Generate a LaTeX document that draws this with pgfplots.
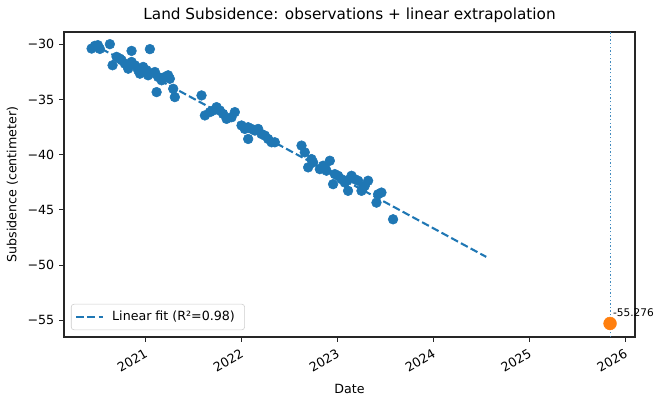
\documentclass[border=0pt]{standalone}
\usepackage{fontspec}
\setmainfont{DejaVu Sans}
\usepackage{pgfplots}
\usepackage{pgfplotstable}
\pgfplotsset{compat=1.18}
\definecolor{tabblue}{HTML}{1F77B4}
\definecolor{taborange}{HTML}{FF7F0E}

\pgfplotstableread{
x y
2020.4375 -30.40
2020.472 -30.15
2020.503 -30.09
2020.524 -30.43
2020.628 -30.00
2020.656 -31.91
2020.698 -31.15
2020.732 -31.31
2020.750 -31.45
2020.784 -31.76
2020.819 -32.22
2020.854 -31.61
2020.854 -30.61
2020.889 -31.91
2020.923 -32.36
2020.941 -32.67
2020.975 -32.06
2021.010 -32.36
2021.027 -32.82
2021.045 -30.45
2021.097 -32.52
2021.131 -32.97
2021.167 -33.27
2021.201 -32.97
2021.235 -32.82
2021.253 -33.13
2021.115 -34.34
2021.288 -34.04
2021.305 -34.79
2021.583 -34.64
2021.618 -36.45
2021.670 -36.15
2021.704 -36.00
2021.740 -35.70
2021.774 -36.00
2021.808 -36.31
2021.844 -36.76
2021.896 -36.61
2021.930 -36.15
2022.000 -37.36
2022.034 -37.67
2022.069 -37.52
2022.104 -37.67
2022.139 -37.82
2022.173 -37.67
2022.208 -38.13
2022.243 -38.27
2022.277 -38.58
2022.313 -38.88
2022.347 -38.88
2022.069 -38.58
2022.625 -39.18
2022.659 -39.79
2022.729 -40.40
2022.694 -41.15
2022.746 -40.70
2022.816 -41.31
2022.850 -41.00
2022.885 -41.45
2022.920 -40.55
2022.868 -41.15
2022.954 -42.67
2022.972 -41.76
2023.006 -41.91
2023.042 -42.22
2023.076 -42.52
2023.110 -43.27
2023.094 -42.36
2023.146 -41.91
2023.180 -42.22
2023.215 -42.36
2023.250 -43.27
2023.284 -42.82
2023.319 -42.36
2023.267 -42.97
2023.423 -43.58
2023.406 -44.34
2023.458 -43.43
2023.579 -45.85
}\obs

\pgfplotstableread{
x y
2020.44 -29.95
2024.55 -49.25
}\fit

\begin{document}
\begin{tikzpicture}
\begin{axis}[
  scale only axis, width=411.1pt, height=219.6pt,
  xmin=2020.15, xmax=2026.10, ymin=-56.5, ymax=-28.9,
  clip=false,
  axis line style={line width=0.8pt, black!85},
  tick align=outside, xtick pos=bottom, ytick pos=left,
  major tick length=3.5pt, tick style={line width=0.8pt, black!85},
  xtick={2021,2022,2023,2024,2025,2026},
  xticklabels={2021,2022,2023,2024,2025,2026},
  ytick={-55,-50,-45,-40,-35,-30},
  yticklabels={−55,−50,−45,−40,−35,−30},
  xticklabel style={rotate=30, anchor=north east, font=\fontsize{9.1}{11}\selectfont},
  yticklabel style={font=\fontsize{9.1}{11}\selectfont},
  title={Land Subsidence: observations + linear extrapolation},
  title style={font=\fontsize{11}{13}\selectfont, yshift=-3pt},
  xlabel={Date}, ylabel={Subsidence (centimeter)},
  label style={font=\fontsize{9.1}{11}\selectfont},
  legend style={at={(0,0)}, anchor=south west, xshift=5pt, yshift=5pt,
    draw=black!20, rounded corners=2pt, fill=white,
    font=\fontsize{9.1}{11}\selectfont, inner xsep=3pt, inner ysep=3pt,
    cells={anchor=west}, nodes={inner xsep=4pt}},
  legend image code/.code={\draw[#1] (0pt,0pt) -- (19pt,0pt);},
]
\addplot[only marks, mark=*, mark size=3.5pt, color=tabblue, forget plot] table[x=x,y=y] {\obs};
\addplot[tabblue, line width=1.5pt, dash pattern=on 5.55pt off 2.4pt] table[x=x,y=y] {\fit};
\addlegendentry{\hspace{2pt}Linear fit (R²=0.98)}
\addplot[tabblue!85, line width=0.7pt, dash pattern=on 1pt off 1.6pt, forget plot] coordinates {(2025.84,-56.5) (2025.84,-28.9)};
\addplot[only marks, mark=*, mark size=4.6pt, color=taborange, forget plot] coordinates {(2025.84,-55.276)};
\node[anchor=base west, font=\fontsize{7.6}{9}\selectfont, inner sep=0pt, xshift=2pt, yshift=5pt] at (axis cs:2025.84,-55.276) {-55.276};
\end{axis}
\pgfresetboundingbox
\useasboundingbox ([xshift=-46.08pt,yshift=-48.96pt]current axis.south west) rectangle ([xshift=15.84pt,yshift=23.04pt]current axis.north east);
\end{tikzpicture}
\end{document}
